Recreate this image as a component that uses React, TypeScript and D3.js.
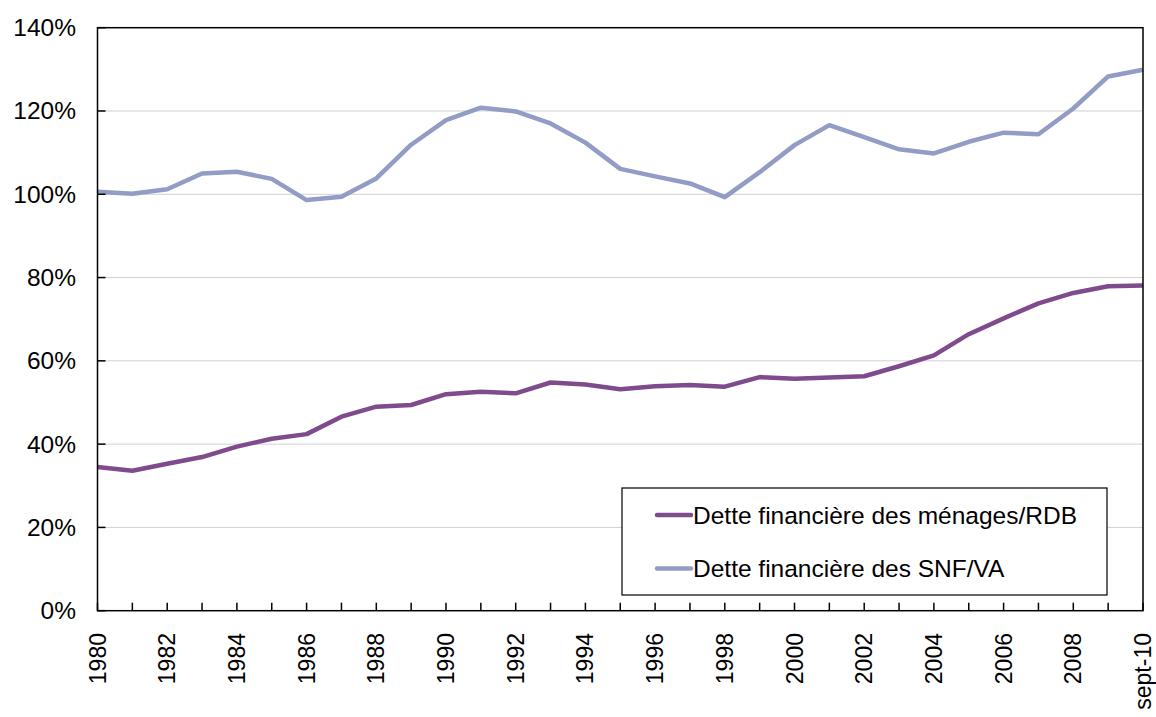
import React from "react";
import * as d3 from "d3";

const categories = [
  "1980","1981","1982","1983","1984","1985","1986","1987","1988","1989",
  "1990","1991","1992","1993","1994","1995","1996","1997","1998","1999",
  "2000","2001","2002","2003","2004","2005","2006","2007","2008","2009","sept-10",
];
const menages = [
  34.5, 33.6, 35.3, 36.9, 39.4, 41.3, 42.4, 46.6, 49.0, 49.4,
  52.0, 52.6, 52.2, 54.8, 54.3, 53.2, 53.9, 54.2, 53.8, 56.1,
  55.7, 56.0, 56.3, 58.7, 61.3, 66.4, 70.2, 73.8, 76.3, 77.9, 78.1,
];
const snf = [
  100.6, 100.1, 101.2, 105.0, 105.4, 103.7, 98.6, 99.4, 103.8, 111.9,
  117.8, 120.8, 119.9, 117.0, 112.4, 106.1, 104.3, 102.6, 99.3, 105.3,
  111.8, 116.6, 113.7, 110.8, 109.8, 112.6, 114.8, 114.4, 120.6, 128.3, 129.9,
];
const yTicks = [0, 20, 40, 60, 80, 100, 120, 140];
const xLabelEvery = 2;
const seriesNames = ["Dette financière des ménages/RDB", "Dette financière des SNF/VA"];
const seriesColors = ["#7f4b8d", "#929cc4"];

const W = 1156, H = 717;
const L = 97.5, R = 1143, T = 27.7, B = 610.7;
const FONT = "'Liberation Sans', Arial, sans-serif";

export default function App() {
  const x = d3.scalePoint<string>().domain(categories).range([L, R]);
  const y = d3.scaleLinear().domain([0, 140]).range([B, T]);
  const line = d3.line<number>().x((_, i) => x(categories[i])!).y((d) => y(d));
  const series = [menages, snf];

  return (
    <svg width={W} height={H} style={{ position: "absolute", left: 0, top: 0, background: "#fff" }} fontFamily={FONT}>
      {yTicks.filter((t) => t > 0 && t < 140).map((t) => (
        <line key={"g" + t} x1={L} x2={R} y1={y(t)} y2={y(t)} stroke="#d0d0d0" strokeWidth={1} />
      ))}
      {series.map((s, i) => (
        <path key={"s" + i} d={line(s)!} fill="none" stroke={seriesColors[i]} strokeWidth={4.5} strokeLinejoin="round" />
      ))}
      <rect x={L} y={T} width={R - L} height={B - T} fill="none" stroke="#000" strokeWidth={1.5} />
      {yTicks.map((t) => (
        <g key={"yt" + t}>
          <line x1={L} x2={L + 8} y1={y(t)} y2={y(t)} stroke="#000" strokeWidth={1.5} />
          <text x={76} y={y(t)} textAnchor="end" dominantBaseline="central" fontSize={24.5} fill="#000">{t}%</text>
        </g>
      ))}
      {categories.map((c, i) => (
        <g key={"xt" + c}>
          <line x1={x(c)!} x2={x(c)!} y1={B} y2={B - 8} stroke="#000" strokeWidth={1.5} />
          {i % xLabelEvery === 0 || i === categories.length - 1 ? (
            <text transform={`translate(${x(c)!},633) rotate(-90)`} textAnchor="end" dominantBaseline="central" fontSize={23} fill="#000">{c}</text>
          ) : null}
        </g>
      ))}
      <rect x={622} y={488} width={485} height={107} fill="#fff" stroke="#000" strokeWidth={1.2} />
      {seriesNames.map((n, i) => {
        const ly = 515 + i * 53.5;
        return (
          <g key={"lg" + i}>
            <line x1={657} x2={691} y1={ly} y2={ly} stroke={seriesColors[i]} strokeWidth={4.5} strokeLinecap="round" />
            <text x={693} y={ly} dominantBaseline="central" fontSize={24.5} fill="#000">{n}</text>
          </g>
        );
      })}
    </svg>
  );
}
